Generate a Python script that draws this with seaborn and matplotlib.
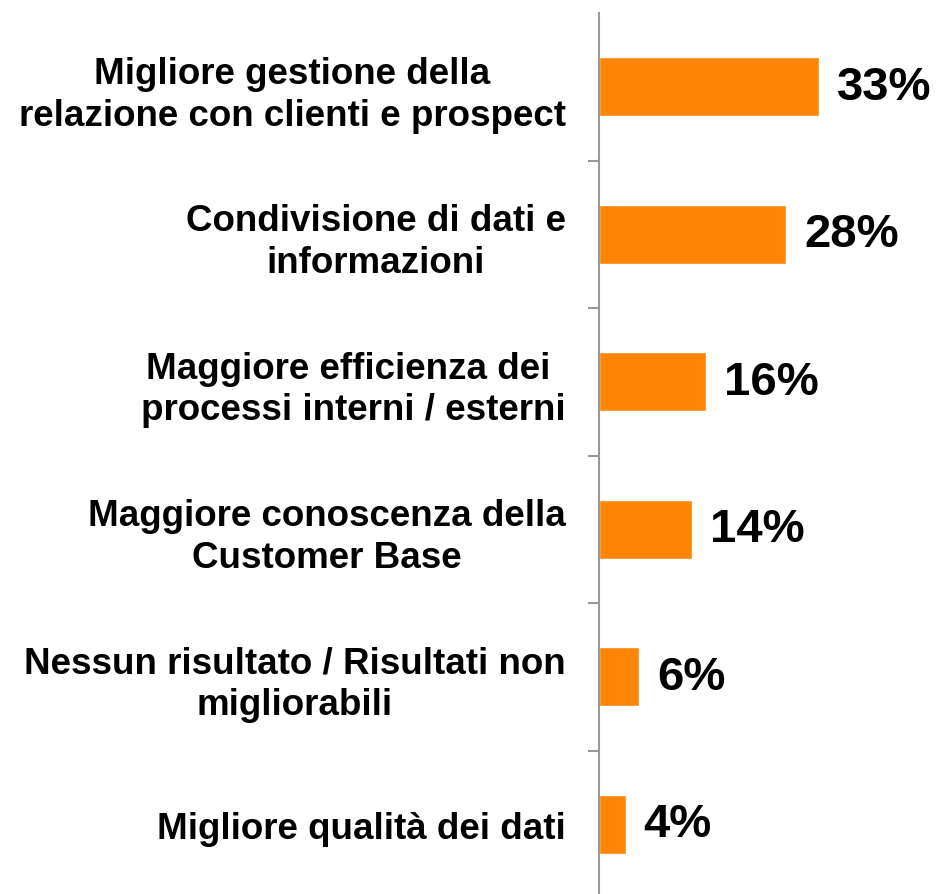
import matplotlib
matplotlib.use("Agg")
import matplotlib.pyplot as plt
import seaborn as sns
import pandas as pd
import numpy as np

categories = [
    "Migliore gestione della\nrelazione con clienti e prospect",
    "Condivisione di dati e\ninformazioni",
    "Maggiore efficienza dei \nprocessi interni / esterni",
    "Maggiore conoscenza della\nCustomer Base",
    "Nessun risultato / Risultati non\nmigliorabili",
    "Migliore qualità dei dati",
]
values = [33, 28, 16, 14, 6, 4]
value_labels = ["33%", "28%", "16%", "14%", "6%", "4%"]

df = pd.DataFrame({"cat": categories, "val": values})

sns.set_style("white")
plt.rcParams["font.family"] = ["Liberation Sans", "DejaVu Sans"]

fig = plt.figure(figsize=(9.36, 8.95), dpi=100)
ax = fig.add_axes([599 / 936, -4 / 895, 1 - 599 / 936, 885 / 895])

sns.barplot(data=df, x="val", y="cat", orient="h", color="#FF8505",
            saturation=1, width=0.4, ax=ax)

ax.set_xlim(0, 50.5)
ax.set_ylim(5.5, -0.5)
ax.set_xlabel("")
ax.set_ylabel("")
ax.set_xticks([])

for i, (v, lab) in enumerate(zip(values, value_labels)):
    ax.annotate(lab, xy=(v, i), xytext=(13, 0), textcoords="offset points",
                ha="left", va="center", fontsize=34, fontweight="bold",
                color="black")

ax.set_yticks(range(len(categories)))
ax.set_yticklabels(categories, fontsize=26.5, fontweight="bold", color="black",
                   multialignment="center", linespacing=1.25)
ax.tick_params(axis="y", which="major", length=0, pad=24)
ax.set_yticks(np.arange(0.5, len(categories) - 1, 1), minor=True)
ax.tick_params(axis="y", which="minor", length=8, width=1.5, color="#999999", left=True)

for s in ["top", "right", "bottom"]:
    ax.spines[s].set_visible(False)
ax.spines["left"].set_color("#999999")
ax.spines["left"].set_linewidth(1.5)

fig.savefig("out.png", dpi=100)
